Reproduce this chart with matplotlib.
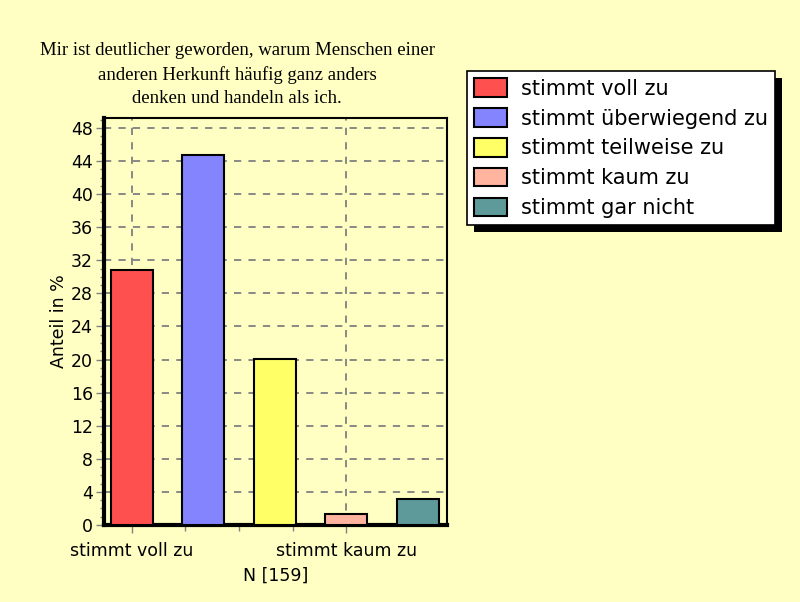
import matplotlib.pyplot as plt
from matplotlib.patches import Rectangle
from matplotlib.ticker import MultipleLocator, FixedLocator

# Daten (Anteil in %, N = 159)
kategorien = ["stimmt voll zu", "stimmt überwiegend zu", "stimmt teilweise zu",
              "stimmt kaum zu", "stimmt gar nicht"]
anteile = [30.8, 44.7, 20.1, 1.3, 3.1]
farben = ["#FF5050", "#8484FF", "#FFFF66", "#FFB4A0", "#5F9A9A"]
tick_pos = [0, 3]
tick_labels = ["stimmt voll zu", "stimmt kaum zu"]

titel = ("Mir ist deutlicher geworden, warum Menschen einer\n"
         "anderen Herkunft häufig ganz anders\n"
         "denken und handeln als ich.")

BG = "#FFFFC4"

fig = plt.figure(figsize=(8, 6.02), dpi=100, facecolor=BG)
ax = fig.add_axes([104 / 800, 77 / 602, 343 / 800, 407 / 602], facecolor=BG)

x = list(range(len(anteile)))
ax.bar(x, anteile, width=0.59, color=farben, edgecolor="black", linewidth=1.5, zorder=3)

ax.set_xlim(-0.39, 4.41)
ax.set_ylim(0, 49.2)

ax.yaxis.set_major_locator(MultipleLocator(4))
ax.yaxis.set_minor_locator(MultipleLocator(1))
ax.xaxis.set_major_locator(FixedLocator(tick_pos))
ax.xaxis.set_minor_locator(FixedLocator([0.75, 1.5, 2.25]))
ax.set_xticklabels(tick_labels)

ax.grid(True, which="major", color="#808080", linestyle=(0, (4, 4)), linewidth=1.3, zorder=1)

ax.tick_params(axis="y", which="major", length=6, width=1, color="#808080",
               labelsize=12.5, pad=2)
ax.tick_params(axis="y", which="minor", length=3, width=1, color="#808080")
ax.tick_params(axis="x", which="major", length=6, width=1, color="#808080",
               labelsize=12.5, pad=6)
ax.tick_params(axis="x", which="minor", length=4, width=1, color="#808080")

for s in ["left", "bottom"]:
    ax.spines[s].set_linewidth(3)
for s in ["top", "right"]:
    ax.spines[s].set_linewidth(1.5)

ax.set_ylabel("Anteil in %", fontsize=12.5, labelpad=2)
ax.set_xlabel("N [159]", fontsize=12.5, labelpad=5)

fig.text(237 / 800, 1 - 42 / 602, titel, ha="center", va="top",
         fontsize=13.5, family="Liberation Serif", linespacing=1.48)

# Legende mit Schatten
handles = [Rectangle((0, 0), 1, 1, facecolor=c, edgecolor="black", linewidth=1.5)
           for c in farben]
leg = fig.legend(handles, kategorien, loc="upper left",
                 bbox_to_anchor=(467 / 800, 1 - 71 / 602),
                 fontsize=15, frameon=True, fancybox=False,
                 edgecolor="black", facecolor="white", framealpha=1,
                 handlelength=1.55, handleheight=1.0, handletextpad=0.7,
                 labelspacing=0.45, borderpad=0.35, borderaxespad=0)
leg.get_frame().set_linewidth(1.2)

fig.canvas.draw()
bb = leg.get_window_extent()
schatten = Rectangle((bb.x0 + 7, bb.y0 - 7), bb.width, bb.height,
                     transform=None, facecolor="black", edgecolor="none", zorder=4)
fig.patches.append(schatten)
schatten.set_figure(fig)

fig.savefig("out.png", dpi=100, facecolor=BG)
